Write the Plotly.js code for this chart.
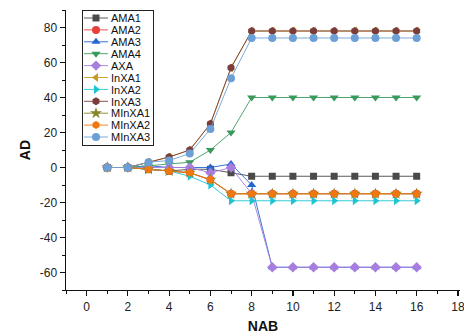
<!DOCTYPE html>
<html><head><meta charset="utf-8">
<script src="https://cdn.plot.ly/plotly-3.0.1.min.js"></script>
<style>html,body{margin:0;padding:0;background:#fff}#chart{width:464px;height:336px}</style>
</head><body><div id="chart"></div>
<script>
var NAB = [1,2,3,4,5,6,7,8,9,10,11,12,13,14,15,16];
var AMA1 = [0,0,-1,-2,-1,-1,-3,-5,-5,-5,-5,-5,-5,-5,-5,-5];
var AMA2 = [0,0,-1,-2,-3,-7,-15,-15,-15,-15,-15,-15,-15,-15,-15,-15];
var AMA3 = [0,0,1,0,0,0,2,-10,-57,-57,-57,-57,-57,-57,-57,-57];
var AMA4 = [0,0,1,2,3,10,20,40,40,40,40,40,40,40,40,40];
var AXA = [0,0,0,0,0,-3,0,-15,-57,-57,-57,-57,-57,-57,-57,-57];
var InXA1 = [0,0,3,6,10,25,57,78,78,78,78,78,78,78,78,78];
var InXA2 = [0,0,-1,-2,-5,-10,-19,-19,-19,-19,-19,-19,-19,-19,-19,-19];
var InXA3 = [0,0,3,6,10,25,57,78,78,78,78,78,78,78,78,78];
var MInXA1 = [0,0,-1,-2,-3,-7,-15,-15,-15,-15,-15,-15,-15,-15,-15,-15];
var MInXA2 = [0,0,-1,-2,-3,-7,-15,-15,-15,-15,-15,-15,-15,-15,-15,-15];
var MInXA3 = [0,0,3,4,8,22,51,74,74,74,74,74,74,74,74,74];

var yTickVals = [-60,-40,-20,0,20,40,60,80];
var yTickText = ['-60','-40','-20','0','20','40','60','80'];
var xTickVals = [0,2,4,6,8,10,12,14,16,18];
var xTickText = ['0','2','4','6','8','10','12','14','16','18'];

var seriesNames = ['AMA1','AMA2','AMA3','AMA4','AXA','InXA1','InXA2','InXA3','MInXA1','MInXA2','MInXA3'];
var seriesData = [AMA1,AMA2,AMA3,AMA4,AXA,InXA1,InXA2,InXA3,MInXA1,MInXA2,MInXA3];
var colors = ['#4a4a4a','#e8413c','#2566d0','#3a9a5c','#a77de0','#c89a22','#1ec4d2','#7a3d3a','#86862a','#f0780e','#6b9fd6'];
var symbols = ['square','circle','triangle-up','triangle-down','diamond','triangle-left','triangle-right','hexagon','star','hexagon','circle'];
var sizes = [7,8,8,8,8,8,8,8,9,8,8];

var traces = seriesNames.map(function(n,i){
  return {x:NAB, y:seriesData[i], name:n, type:'scatter', mode:'lines+markers',
    line:{color:colors[i], width:0.9},
    marker:{symbol:symbols[i], size:sizes[i], color:colors[i], line:{width:0}}};
});

var font = 'Liberation Sans, Arial, sans-serif';
var layout = {
  width:464, height:336,
  margin:{l:66, r:4, t:10, b:46},
  paper_bgcolor:'#fff', plot_bgcolor:'#fff',
  showlegend:true,
  legend:{x:0.0406, y:1, xanchor:'left', yanchor:'top', bgcolor:'#fff',
    bordercolor:'#222', borderwidth:1, font:{family:font, size:11, color:'#111'},
    itemwidth:30, tracegroupgap:0},
  xaxis:{range:[-1,18.1], tickmode:'array', tickvals:xTickVals, ticktext:xTickText,
    ticks:'outside', ticklen:5, ticklabeloverflow:'allow',
    tickwidth:1.2, tickcolor:'#111', showline:true, linecolor:'#111', linewidth:1.4,
    showgrid:false, zeroline:false, mirror:false,
    minor:{dtick:1, tick0:0, ticks:'outside', ticklen:3, tickcolor:'#111', tickwidth:1},
    tickfont:{family:font, size:12, color:'#222'},
    title:{text:'<b>NAB</b>', font:{family:font, size:14, color:'#111'}, standoff:8}},
  yaxis:{range:[-70,90], tickmode:'array', tickvals:yTickVals, ticktext:yTickText,
    ticks:'outside', ticklen:5,
    tickwidth:1.2, tickcolor:'#111', showline:true, linecolor:'#111', linewidth:1.4,
    showgrid:false, zeroline:false,
    minor:{dtick:10, tick0:0, ticks:'outside', ticklen:3, tickcolor:'#111', tickwidth:1},
    tickfont:{family:font, size:12, color:'#222'},
    title:{text:'<b>AD</b>', font:{family:font, size:14, color:'#111'}, standoff:6}}
};

Plotly.newPlot('chart', traces, layout, {displayModeBar:false, staticPlot:true}).then(function(){
  var gap = 11.9, top = 8;
  var items = document.querySelectorAll('.legend .traces');
  items.forEach(function(g,i){
    g.setAttribute('transform','translate(1,'+(top+i*gap)+')');
    var t = g.querySelector('.legendtext');
    if(t) t.setAttribute('x', 28);
    g.querySelectorAll('.legendlines path').forEach(function(p){ p.setAttribute('d','M1,0h24'); });
    g.querySelectorAll('.legendpoints .scatterpts').forEach(function(p){ p.setAttribute('transform','translate(13,0)'); });
  });
  var bg = document.querySelector('.legend .bg');
  if(bg){ bg.setAttribute('height', top*2 + (items.length-1)*gap); bg.setAttribute('width', 71); }
});
</script>
</body></html>
